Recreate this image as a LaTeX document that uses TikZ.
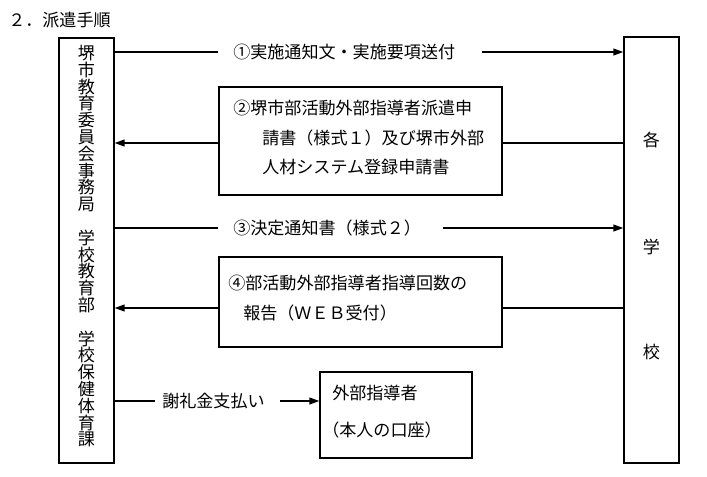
\documentclass[tikz,border=0pt]{standalone}
\usepackage{fontspec}
\setmainfont{Noto Sans CJK JP}
\usetikzlibrary{arrows.meta,fit}
\begin{document}
\begin{tikzpicture}[x=0.75pt,y=-0.75pt,
  box/.style={draw, line width=0.8pt, inner sep=0pt},
  txt/.style={inner sep=0pt, anchor=west, font=\fontsize{12.8}{15}\selectfont},
  ctxt/.style={inner sep=0pt, font=\fontsize{12.8}{15}\selectfont},
  plain/.style={line width=0.8pt},
  arr/.style={line width=1.3pt, -{Triangle[length=7.5pt,width=5pt]}}]
\useasboundingbox (0,0) rectangle (707,476);
% title
\node[txt] (title) at (8,20) {２．派遣手順};
% left and right boxes
\node[box, fit={(59,38) (114,463)}] (L) {};
\foreach \c [count=\i from 0] in {堺,市,教,育,委,員,会,事,務,局,{},学,校,教,育,部,{},学,校,保,健,体,育,課}
  \node[ctxt] (v\i) at (86.5,53+\i*16.8) {\c};
\node[box, fit={(624,37) (679,463)}] (R) {};
\node[ctxt] (r1) at (651.5,140) {各};
\node[ctxt] (r2) at (651.5,247) {学};
\node[ctxt] (r3) at (651.5,352) {校};
% row 1
\node[txt] (t1) at (233,52) {①実施通知文・実施要項送付};
\coordinate (a1) at (218,52);
\coordinate (b1) at (482,52);
\draw[plain] (L.east |- a1) -- (a1);
\draw[arr] (b1) -- (R.west |- b1);
% row 2
\node[box, fit={(219,87) (502,195)}] (B2) {};
\node[txt] (t2a) at (233,108) {②堺市部活動外部指導者派遣申};
\node[txt] (t2b) at (262,138) {請書（様式１）及び堺市外部};
\node[txt] (t2c) at (262,167) {人材システム登録申請書};
\coordinate (c2) at (360,143);
\draw[arr] (B2.west |- c2) -- (L.east |- c2);
\draw[plain] (B2.east |- c2) -- (R.west |- c2);
% row 3
\node[txt] (t3) at (233,228) {③決定通知書（様式２）};
\coordinate (a3) at (218,228);
\coordinate (b3) at (443,228);
\draw[plain] (L.east |- a3) -- (a3);
\draw[arr] (b3) -- (R.west |- b3);
% row 4
\node[box, fit={(219,257) (502,347)}] (B4) {};
\node[txt] (t4a) at (228,283) {④部活動外部指導者指導回数の};
\node[txt] (t4b) at (243,313) {報告（ＷＥＢ受付）};
\coordinate (c4) at (360,308);
\draw[arr] (B4.west |- c4) -- (L.east |- c4);
\draw[plain] (B4.east |- c4) -- (R.west |- c4);
% row 5
\node[box, fit={(320,372) (472,458)}] (B5) {};
\node[txt] (t5a) at (332,393) {外部指導者};
\node[txt] (t5b) at (322,430) {（本人の口座）};
\node[txt] (t5) at (162,401) {謝礼金支払い};
\coordinate (a5) at (155,401);
\coordinate (b5) at (280,401);
\draw[plain] (L.east |- a5) -- (a5);
\draw[arr] (b5) -- (B5.west |- b5);
\end{tikzpicture}
\end{document}
